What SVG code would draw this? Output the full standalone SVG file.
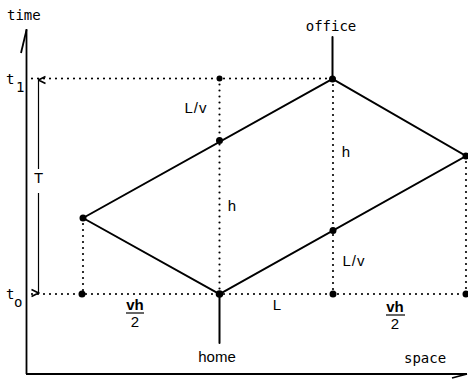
<svg xmlns="http://www.w3.org/2000/svg" width="468" height="380" viewBox="0 0 468 380">
<defs>
<style>
.solid{stroke:#000;stroke-width:2;fill:none;stroke-linecap:round}
.axis{stroke:#000;stroke-width:1.8;fill:none}
.dot{stroke:#000;stroke-width:2.2;fill:none;stroke-linecap:round;stroke-dasharray:0 6}
.thin{stroke:#000;stroke-width:1.2;fill:none}
.node{fill:#000}
.mono{font-family:"DejaVu Sans Mono","Liberation Mono",monospace;font-size:14px;fill:#000}
.sans{font-family:"Liberation Sans","DejaVu Sans",sans-serif;font-size:15px;fill:#000}
</style>
<marker id="vhead" markerWidth="10" markerHeight="10" refX="5" refY="1" orient="auto-start-reverse" markerUnits="userSpaceOnUse" viewBox="0 0 10 10">
<path d="M1.5,8 L5,1 L8.5,8" fill="none" stroke="#000" stroke-width="1.6"/>
</marker>
</defs>
<rect width="468" height="380" fill="#fff"/>

<g id="axes">
<line class="axis" x1="26.5" y1="29" x2="26.5" y2="374"/>
<line class="axis" x1="21" y1="53" x2="26.5" y2="30"/>
<line class="axis" x1="26" y1="374" x2="467" y2="374"/>
<line class="axis" x1="452" y1="378" x2="467" y2="374"/>
<text class="mono" x="7" y="20" font-size="15">time</text>
<text class="mono" x="404" y="363">space</text>
</g>

<g id="connectors">
<line class="dot" x1="32" y1="78.5" x2="332" y2="78.5"/>
<line class="dot" x1="32" y1="294" x2="466" y2="294"/>
<line class="dot" x1="83" y1="218" x2="83" y2="294"/>
<line class="dot" x1="219.5" y1="78.5" x2="219.5" y2="294"/>
<line class="dot" x1="333" y1="79" x2="333" y2="294"/>
<line class="dot" x1="466" y1="156" x2="466" y2="294"/>
<polyline class="solid" points="83,218 332.5,79 466,156 219.5,294 83,218"/>
<line class="solid" x1="332.5" y1="79" x2="332.5" y2="37"/>
<line class="solid" x1="219.5" y1="294" x2="219.5" y2="343"/>
<line class="thin" x1="38.5" y1="80" x2="38.5" y2="169" marker-start="url(#vhead)"/>
<line class="thin" x1="38.5" y1="193" x2="38.5" y2="293" marker-end="url(#vhead)"/>
</g>

<g id="node-office">
<circle class="node" cx="332.5" cy="79" r="3.5"/>
<text class="mono" x="331" y="31" text-anchor="middle" font-size="15">office</text>
</g>
<g id="node-home">
<circle class="node" cx="219.5" cy="294" r="3.8"/>
<text class="sans" x="217" y="362" text-anchor="middle">home</text>
</g>
<g id="node-left">
<circle class="node" cx="83" cy="218" r="3.5"/>
</g>
<g id="node-right">
<circle class="node" cx="466" cy="156" r="3.5"/>
</g>
<g id="node-upper-mid">
<circle class="node" cx="219.5" cy="140.5" r="3.5"/>
</g>
<g id="node-lower-mid">
<circle class="node" cx="333" cy="230.5" r="3.5"/>
</g>
<g id="node-t1-dot">
<circle class="node" cx="219.5" cy="78.5" r="3"/>
</g>
<g id="node-t0-dots">
<circle class="node" cx="82" cy="294" r="3.5"/>
<circle class="node" cx="333" cy="294" r="3.5"/>
<circle class="node" cx="466" cy="294" r="3.5"/>
</g>

<g id="labels">
<text class="mono" x="6" y="84" font-size="16">t</text>
<text class="mono" x="16" y="92" font-size="12">1</text>
<text class="mono" x="6" y="299" font-size="16">t</text>
<text class="mono" x="14" y="307" font-size="12">o</text>
<text class="sans" x="38.5" y="183" text-anchor="middle">T</text>
<text class="sans" x="196" y="113" text-anchor="middle" font-size="16" letter-spacing="1">L/v</text>
<text class="sans" x="354" y="266" text-anchor="middle" font-size="16" letter-spacing="1">L/v</text>
<text class="sans" x="232" y="211" text-anchor="middle">h</text>
<text class="sans" x="346" y="157" text-anchor="middle">h</text>
<text class="sans" x="277" y="310" text-anchor="middle">L</text>
<text class="sans" x="135" y="310" text-anchor="middle" font-weight="bold">vh</text>
<line class="thin" x1="126" y1="313" x2="144" y2="313"/>
<text class="sans" x="135" y="327" text-anchor="middle">2</text>
<text class="sans" x="395" y="312" text-anchor="middle" font-weight="bold">vh</text>
<line class="thin" x1="386" y1="315" x2="405" y2="315"/>
<text class="sans" x="395" y="329" text-anchor="middle">2</text>
</g>
</svg>
